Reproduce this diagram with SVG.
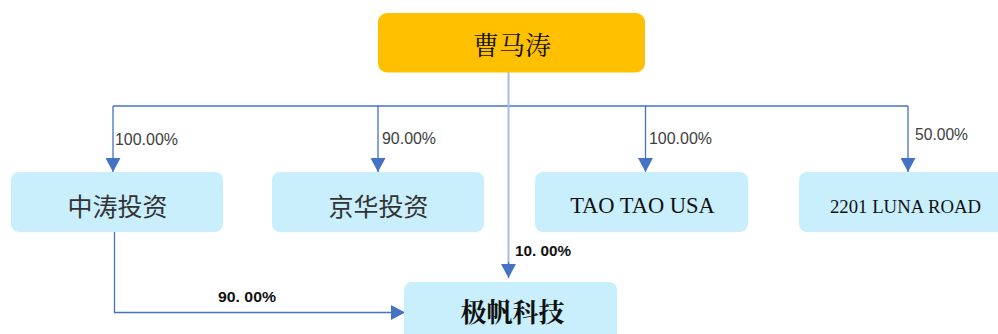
<svg xmlns="http://www.w3.org/2000/svg" width="998" height="334" viewBox="0 0 998 334">
<style>
.box{fill:#C9EEFC;}
.top{fill:#FFC000;}
.ln{fill:none;stroke:#4472C4;stroke-width:1.3;}
.lnl{fill:none;stroke:#A3BCEA;stroke-width:2;}
.pct{font-family:"Liberation Sans",Arial,sans-serif;font-size:17px;fill:#404040;}
.pctb{font-family:"Liberation Sans",Arial,sans-serif;font-size:15px;font-weight:bold;fill:#111;}
.cn{font-family:"Noto Sans CJK SC",sans-serif;font-size:25px;fill:#333;text-anchor:middle;}
.en{font-family:"Liberation Serif","Times New Roman",serif;fill:#111;text-anchor:middle;}
</style>
<defs>
<marker id="arr" markerWidth="14" markerHeight="15" refX="14" refY="7.5" orient="auto" markerUnits="userSpaceOnUse">
<path d="M0,0 L14,7.5 L0,15 Z" fill="#4472C4"/>
</marker>
</defs>
<g id="connectors">
<path class="ln" d="M113,106 H908"/>
<path class="ln" d="M113,106 V172" marker-end="url(#arr)"/>
<path class="ln" d="M378,106 V172" marker-end="url(#arr)"/>
<path class="ln" d="M645.5,106 V172" marker-end="url(#arr)"/>
<path class="ln" d="M908,106 V172" marker-end="url(#arr)"/>
<path class="lnl" d="M508.5,72 V264"/>
<path class="ln" d="M508.5,262 V278" marker-end="url(#arr)"/>
<path class="ln" d="M114.5,232 V312.5 H405" marker-end="url(#arr)"/>
<text class="pct" x="115" y="145" textLength="63" lengthAdjust="spacingAndGlyphs">100.00%</text>
<text class="pct" x="382" y="144" textLength="54" lengthAdjust="spacingAndGlyphs">90.00%</text>
<text class="pct" x="649" y="144" textLength="63" lengthAdjust="spacingAndGlyphs">100.00%</text>
<text class="pct" x="915" y="140" textLength="53" lengthAdjust="spacingAndGlyphs">50.00%</text>
<text class="pctb" x="515" y="256" textLength="56" lengthAdjust="spacingAndGlyphs">10. 00%</text>
<text class="pctb" x="218" y="302" textLength="58" lengthAdjust="spacingAndGlyphs">90. 00%</text>
</g>
<g id="n-caomatao">
<rect class="top" x="378" y="13" width="267" height="59.5" rx="9"/>
<text x="512" y="55" text-anchor="middle" style="font-family:'Noto Serif CJK SC','Noto Sans CJK SC',serif;font-size:26px;fill:#111;">曹马涛</text>
</g>
<g id="n-zhongtao">
<rect class="box" x="11" y="172" width="212" height="60" rx="8"/>
<text class="cn" x="117.5" y="216">中涛投资</text>
</g>
<g id="n-jinghua">
<rect class="box" x="272" y="172" width="212" height="60" rx="8"/>
<text class="cn" x="378.5" y="216">京华投资</text>
</g>
<g id="n-taotao">
<rect class="box" x="535" y="172" width="213" height="60" rx="8"/>
<text class="en" x="642.5" y="213" font-size="22.5">TAO TAO USA</text>
</g>
<g id="n-luna">
<rect class="box" x="799" y="172" width="210" height="60" rx="8"/>
<text class="en" x="905.5" y="213" font-size="19" textLength="151" lengthAdjust="spacingAndGlyphs">2201 LUNA ROAD</text>
</g>
<g id="n-jifan">
<rect class="box" x="404" y="282" width="213" height="62" rx="8"/>
<text x="512.5" y="322" text-anchor="middle" style="font-family:'Noto Serif CJK SC','Noto Sans CJK SC',serif;font-size:26px;font-weight:bold;fill:#111;">极帆科技</text>
</g>
</svg>
